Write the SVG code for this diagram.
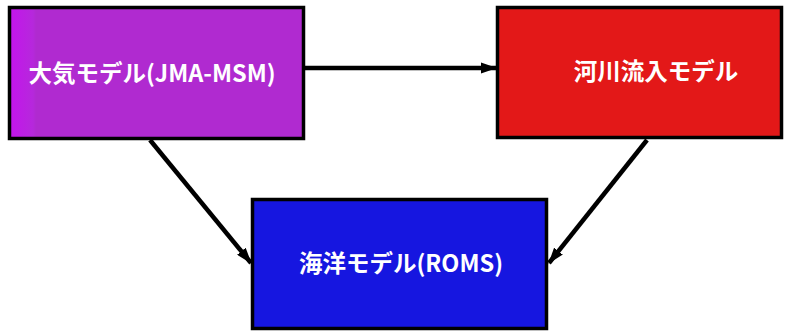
<svg xmlns="http://www.w3.org/2000/svg" width="785" height="331" viewBox="0 0 785 331">
<defs>
<style>
.box{stroke:#000;stroke-width:3.5}
.lbl{font-family:"Noto Sans CJK JP","Noto Sans",sans-serif;font-weight:bold;font-size:23.5px;fill:#fff}
.con{stroke:#000;stroke-width:4.5;fill:none;marker-end:url(#ah)}
</style>
<marker id="ah" viewBox="0 0 16 11" refX="15" refY="5.5" markerWidth="3.6" markerHeight="2.5" orient="auto" markerUnits="strokeWidth">
<path d="M0,0 L16,5.5 L0,11 z" fill="#000"/>
</marker>
<linearGradient id="pg" x1="0" y1="0" x2="1" y2="0">
<stop offset="0" stop-color="#c414ec"/>
<stop offset="0.08" stop-color="#b628dc"/>
<stop offset="0.09" stop-color="#b02ad0"/>
<stop offset="1" stop-color="#b02ad0"/>
</linearGradient>
</defs>
<g id="connectors">
<line class="con" x1="304" y1="68" x2="496" y2="68"/>
<line class="con" x1="150" y1="140" x2="251" y2="263"/>
<line class="con" x1="647" y1="140" x2="549" y2="263"/>
</g>
<g id="atmos">
<rect class="box" x="9.5" y="7.5" width="294" height="131" fill="url(#pg)"/>
<text class="lbl" x="152" y="82" text-anchor="middle">大気モデル(JMA-MSM)</text>
</g>
<g id="river">
<rect class="box" x="497.5" y="7.5" width="284" height="130" fill="#e31818"/>
<text class="lbl" x="656" y="80" text-anchor="middle">河川流入モデル</text>
</g>
<g id="ocean">
<rect class="box" x="252.5" y="199.5" width="294" height="129" fill="#1616e0"/>
<text class="lbl" x="401" y="272" text-anchor="middle">海洋モデル(ROMS)</text>
</g>
</svg>
